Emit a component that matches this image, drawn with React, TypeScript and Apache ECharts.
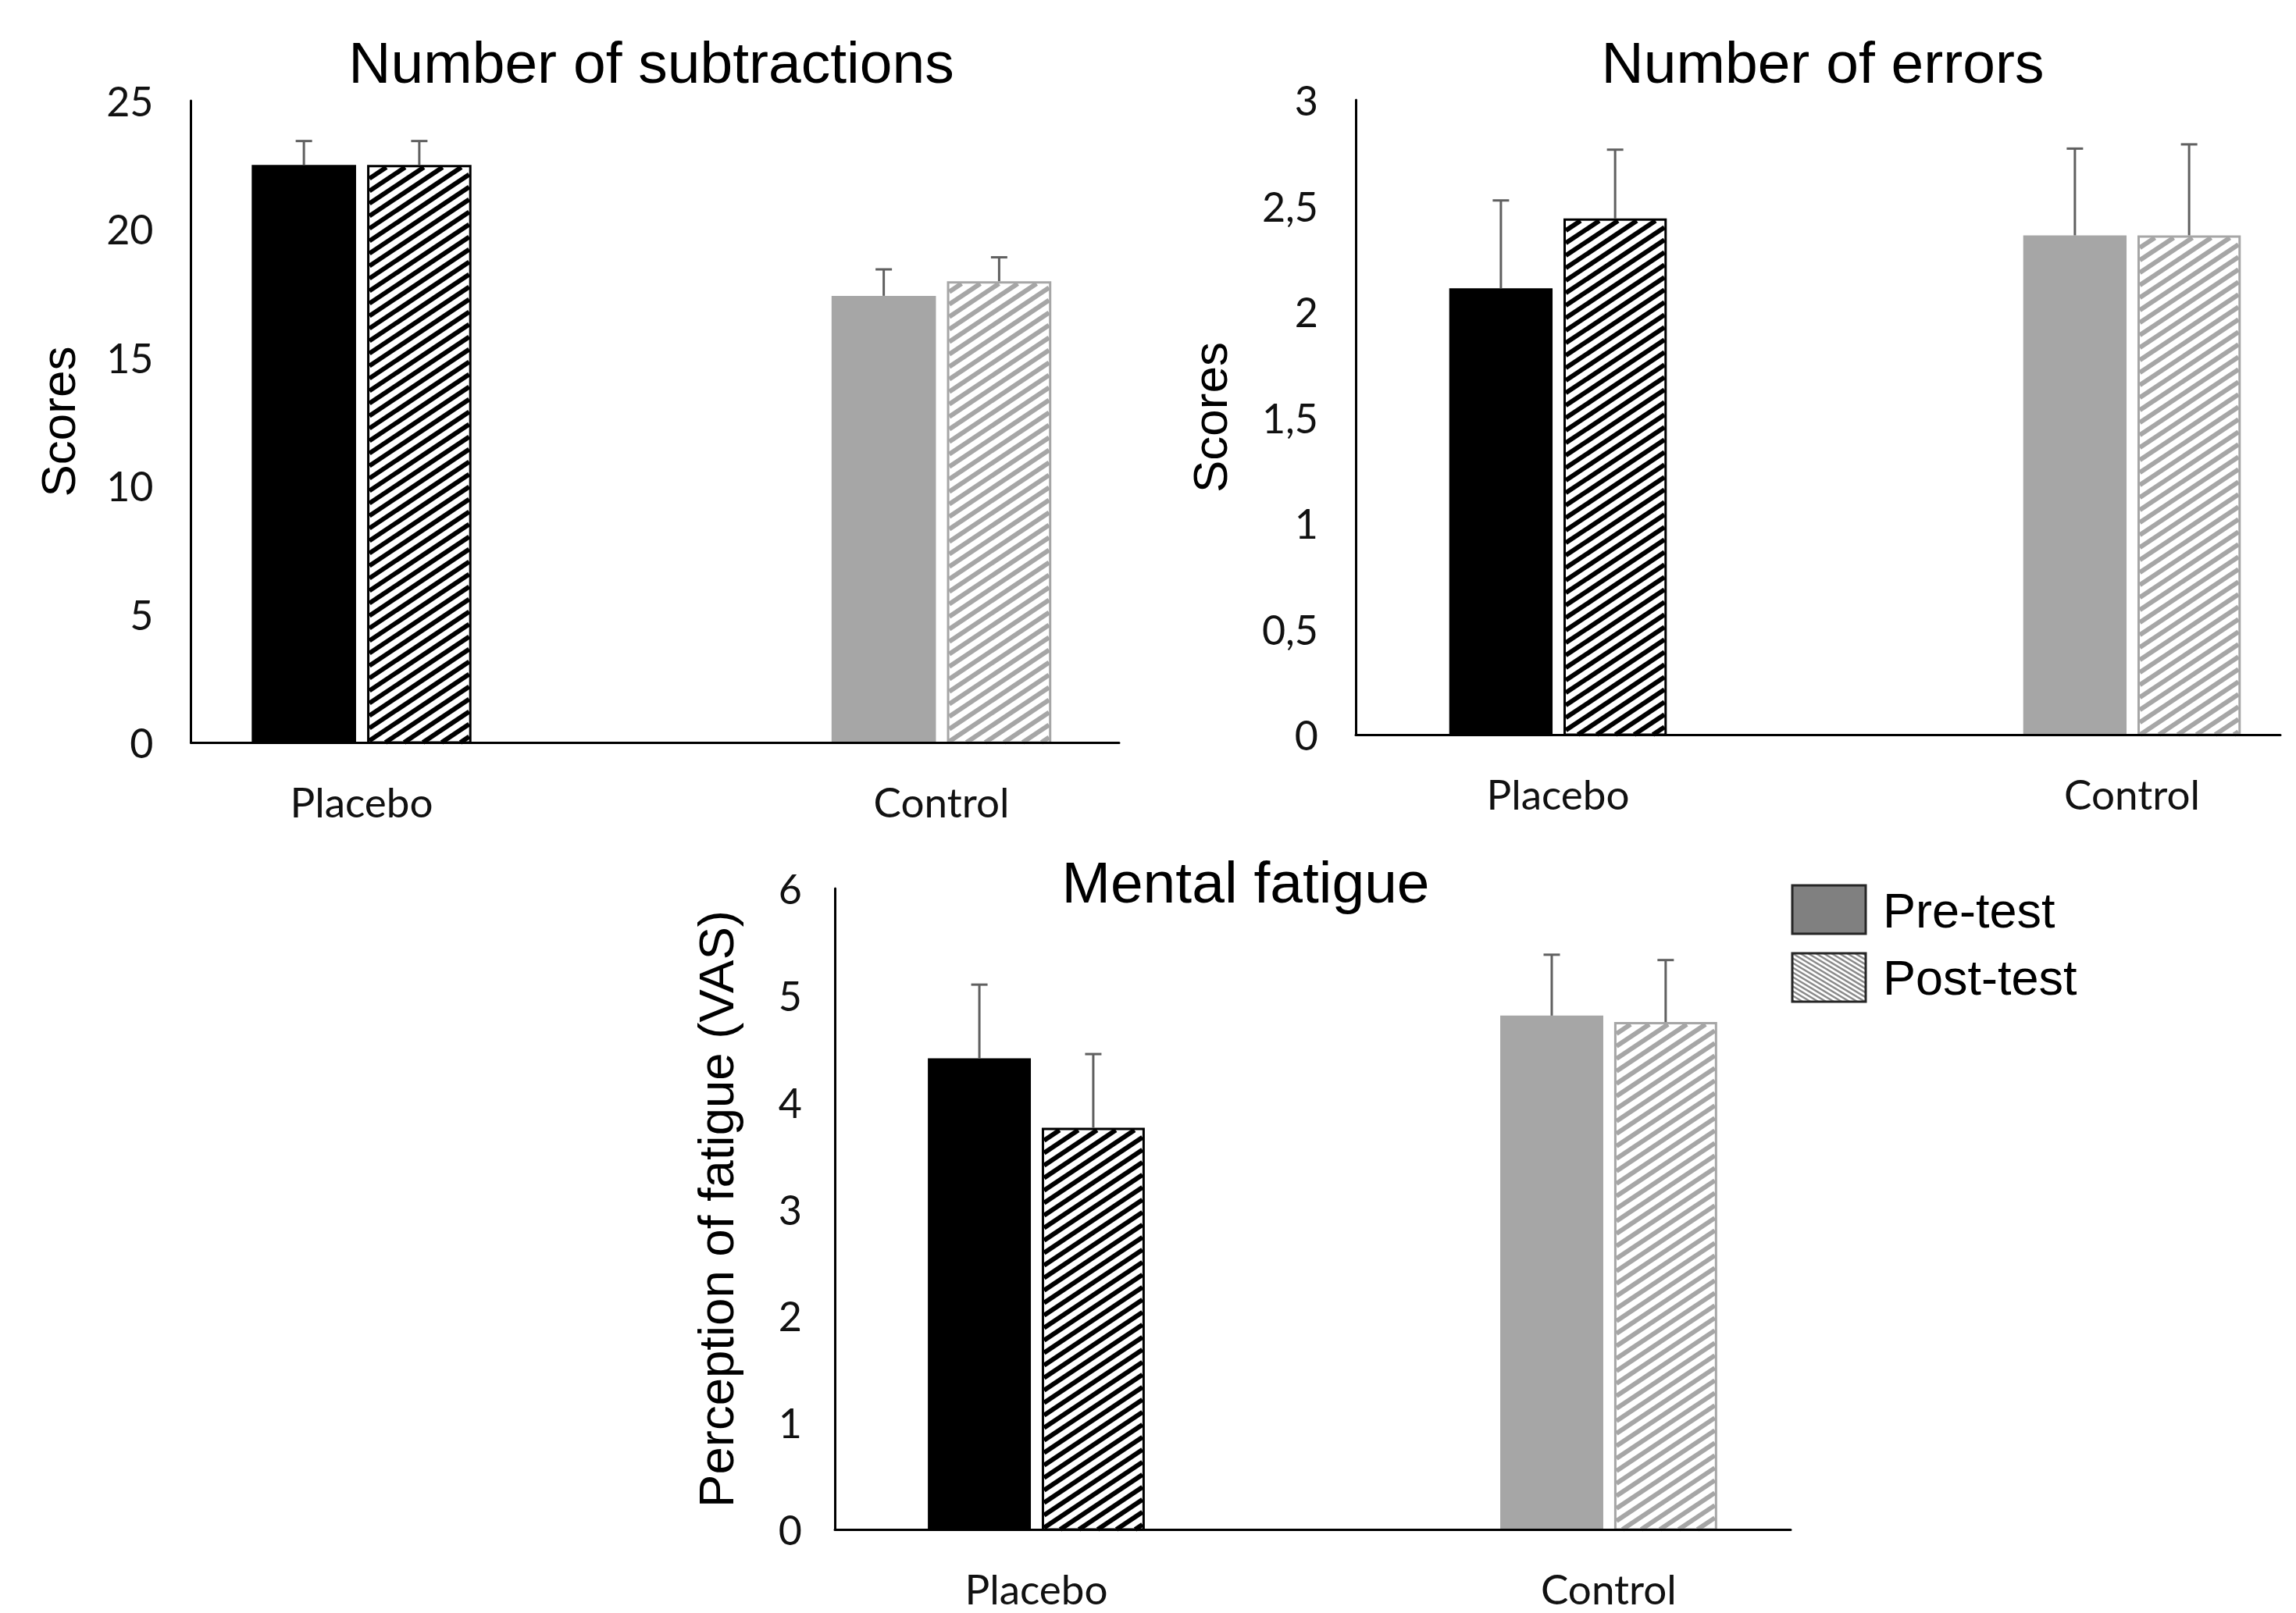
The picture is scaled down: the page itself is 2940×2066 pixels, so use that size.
import React, { useEffect, useRef } from "react";
import * as echarts from "echarts";

// ---------- data ----------
const categories = ["Placebo", "Control"];
const seriesNames = ["Pre-test", "Post-test"];

const subtractionsPre = [22.5, 17.4];
const subtractionsPreErr = [0.93, 1.03];
const subtractionsPost = [22.5, 17.97];
const subtractionsPostErr = [0.93, 0.93];

const errorsPre = [2.11, 2.36];
const errorsPreErr = [0.415, 0.41];
const errorsPost = [2.44, 2.36];
const errorsPostErr = [0.325, 0.43];

const fatiguePre = [4.41, 4.81];
const fatiguePreErr = [0.69, 0.57];
const fatiguePost = [3.76, 4.75];
const fatiguePostErr = [0.69, 0.58];

const titles = ["Number of subtractions", "Number of errors", "Mental fatigue"];
const yNames = ["Scores", "Scores", "Perception of fatigue (VAS)"];
const yMax = [25, 3, 6];
const yStep = [5, 0.5, 1];

// ---------- styles ----------
const ARIAL = '"Liberation Sans", Arial, sans-serif';
const TICKFONT = 'Lato, "Open Sans", sans-serif';
const barColors = ["#000000", "#a6a6a6"];
const ERR_COLOR = "#606060";
const BAR_FRAC = 0.18;
const GAP_FRAC = 0.019;

function stripes(x0: number, y0: number, x1: number, y1: number, a: number, b: number, period: number) {
  const segs: number[][] = [];
  if (x1 <= x0 || y1 <= y0) return segs;
  const corners = [a * x0 + b * y0, a * x1 + b * y0, a * x0 + b * y1, a * x1 + b * y1];
  const kmin = Math.min(...corners);
  const kmax = Math.max(...corners);
  const step = b * period;
  for (let k = Math.ceil(kmin / step) * step; k <= kmax; k += step) {
    const p = (k - b * y0) / a;
    const q = (k - b * y1) / a;
    const xa = Math.max(x0, Math.min(p, q));
    const xb = Math.min(x1, Math.max(p, q));
    if (xb - xa > 0.5) {
      segs.push([xa, (k - a * xa) / b, xb, (k - a * xb) / b]);
    }
  }
  return segs;
}

const makeRender = (isPost: boolean) => (params: any, api: any) => {
  const cat = api.value(0);
  const val = api.value(1);
  const err = api.value(2);
  const unit = api.size([1, 0])[0];
  const bw = unit * BAR_FRAC;
  const gap = unit * GAP_FRAC;
  const base = api.coord([cat, 0]);
  const top = api.coord([cat, val]);
  const et = api.coord([cat, val + err]);
  const cx = base[0] + (isPost ? 1 : -1) * (bw + gap) / 2;
  const x0 = cx - bw / 2;
  const x1 = cx + bw / 2;
  const y0 = top[1];
  const y1 = base[1];
  const color = barColors[cat];
  const children: any[] = [];
  if (!isPost) {
    children.push({ type: "rect", shape: { x: x0, y: y0, width: bw, height: y1 - y0 }, style: { fill: color } });
  } else {
    children.push({ type: "rect", shape: { x: x0, y: y0, width: bw, height: y1 - y0 }, style: { fill: "#ffffff" } });
    for (const s of stripes(x0 + 3, y0 + 3, x1 - 3, y1, 2, 3, 16)) {
      children.push({
        type: "line",
        shape: { x1: s[0], y1: s[1], x2: s[2], y2: s[3] },
        style: { stroke: color, lineWidth: 6 },
      });
    }
    children.push({
      type: "rect",
      shape: { x: x0 + 1.5, y: y0 + 1.5, width: bw - 3, height: y1 - y0 - 1.5 },
      style: { fill: "none", stroke: color, lineWidth: 3 },
    });
  }
  children.push({ type: "line", shape: { x1: cx, y1: y0, x2: cx, y2: et[1] }, style: { stroke: ERR_COLOR, lineWidth: 3 } });
  children.push({ type: "line", shape: { x1: cx - 10.5, y1: et[1], x2: cx + 10.5, y2: et[1] }, style: { stroke: ERR_COLOR, lineWidth: 3 } });
  return { type: "group", children };
};

const toData = (vals: number[], errs: number[]) => vals.map((v, i) => [i, v, errs[i]]);

const panelData = [
  [toData(subtractionsPre, subtractionsPreErr), toData(subtractionsPost, subtractionsPostErr)],
  [toData(errorsPre, errorsPreErr), toData(errorsPost, errorsPostErr)],
  [toData(fatiguePre, fatiguePreErr), toData(fatiguePost, fatiguePostErr)],
];

// layout per panel
const grids = [
  { left: 244.5, right: 1507, top: 129, bottom: 1115 },
  { left: 1736, right: 20, top: 128, bottom: 1125 },
  { left: 1069, right: 647, top: 1138, bottom: 107 },
];
const xRange = [
  [-0.2943, 1.3064],
  [-0.3524, 1.2585],
  [-0.352, 1.318],
];
const nameGaps = [139, 156, 120];
const nameSizes = [62, 62, 63.5];
const tickMargins = [48, 48, 42];
const titlePos = [
  [829, 37],
  [2329, 37],
  [1590, 1087],
];

function hatchLegend(x: number, y: number, w: number, h: number) {
  const els: any[] = [{ type: "rect", shape: { x, y, width: w, height: h }, style: { fill: "#ffffff" } }];
  for (const s of stripes(x, y, x + w, y + h, -3, 5, 6)) {
    els.push({ type: "line", shape: { x1: s[0], y1: s[1], x2: s[2], y2: s[3] }, style: { stroke: "#8a8a8a", lineWidth: 2.5 } });
  }
  els.push({ type: "rect", shape: { x, y, width: w, height: h }, style: { fill: "none", stroke: "#262626", lineWidth: 3 } });
  return els;
}

function buildOption() {
  const xAxis: any[] = [];
  const yAxis: any[] = [];
  const series: any[] = [];
  const title: any[] = [];
  for (let p = 0; p < 3; p++) {
    title.push({
      text: titles[p],
      left: titlePos[p][0],
      top: titlePos[p][1],
      textAlign: "center",
      textStyle: { fontSize: 75, fontWeight: "normal", fontFamily: ARIAL, color: "#000" },
    });
    xAxis.push({
      gridIndex: p,
      type: "value",
      min: xRange[p][0],
      max: xRange[p][1],
      z: 5,
      axisLine: { show: true, onZero: false, lineStyle: { color: "#000", width: 3 } },
      axisTick: { show: false },
      splitLine: { show: false },
      axisLabel: {
        customValues: [0, 1],
        formatter: (v: number) => categories[Math.round(v)] ?? "",
        fontFamily: TICKFONT,
        fontSize: 53,
        color: "#111",
        margin: 49,
      },
    });
    yAxis.push({
      gridIndex: p,
      type: "value",
      min: 0,
      max: yMax[p],
      interval: yStep[p],
      name: yNames[p],
      nameLocation: "middle",
      nameGap: nameGaps[p],
      nameTextStyle: { fontSize: nameSizes[p], fontFamily: ARIAL, color: "#000" },
      axisLine: { show: true, onZero: false, lineStyle: { color: "#000", width: 3 } },
      axisTick: { show: false },
      splitLine: { show: false },
      axisLabel: {
        fontFamily: TICKFONT,
        fontSize: 52,
        color: "#111",
        margin: tickMargins[p],
        formatter: (v: number) => String(v).replace(".", ","),
      },
    });
    for (let s = 0; s < 2; s++) {
      series.push({
        type: "custom",
        name: seriesNames[s],
        xAxisIndex: p,
        yAxisIndex: p,
        data: panelData[p][s],
        encode: { x: 0, y: 1 },
        renderItem: makeRender(s === 1),
        z: 2,
      });
    }
  }
  const graphic: any[] = [
    { type: "rect", shape: { x: 2295, y: 1134, width: 94, height: 62 }, style: { fill: "#808080", stroke: "#262626", lineWidth: 3 } },
    ...hatchLegend(2295, 1221, 94, 62),
    { type: "text", x: 2411, y: 1166, style: { text: seriesNames[0], fontSize: 63, fontFamily: ARIAL, fill: "#000", verticalAlign: "middle", align: "left" } },
    { type: "text", x: 2411, y: 1252, style: { text: seriesNames[1], fontSize: 63, fontFamily: ARIAL, fill: "#000", verticalAlign: "middle", align: "left" } },
  ];
  return {
    animation: false,
    backgroundColor: "#ffffff",
    title,
    grid: grids.map((g) => ({ ...g, containLabel: false, outerBoundsMode: "none" })),
    xAxis,
    yAxis,
    series,
    graphic,
  };
}

export default function App() {
  const ref = useRef<HTMLDivElement>(null);
  useEffect(() => {
    const chart = echarts.init(ref.current!, null, { renderer: "svg", width: 2940, height: 2066 });
    chart.setOption(buildOption() as any);
    return () => chart.dispose();
  }, []);
  return (
    <div
      ref={ref}
      style={{ position: "fixed", left: 0, top: 0, width: 2940, height: 2066, background: "#fff" }}
    />
  );
}
